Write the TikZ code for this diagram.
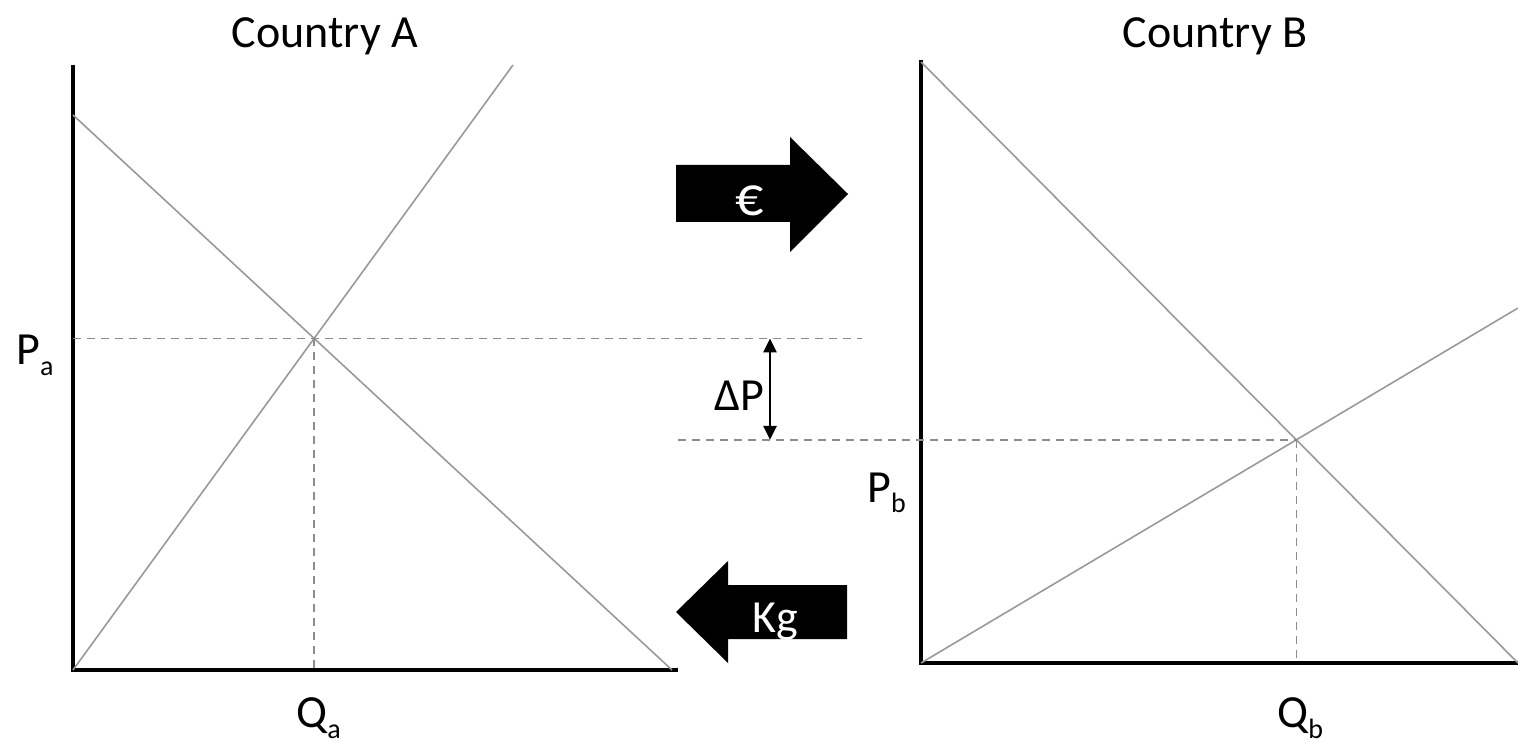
\documentclass[tikz,border=0pt]{standalone}
\usepackage{fontspec}
\setmainfont{Carlito}
\usetikzlibrary{arrows.meta}
\newcommand{\lowtxt}[1]{\raisebox{-5.5pt}{\fontsize{14}{14}\selectfont #1}}

\begin{document}
\begin{tikzpicture}[x=0.5pt, y=-0.5pt,
                    axis/.style={line width=2pt},
                    curve/.style={line width=0.8pt, draw=black!40},
                    guide/.style={line width=0.8pt, draw=black!45, dash pattern=on 4pt off 3pt},
                    lbl/.style={font=\fontsize{23}{23}\selectfont, inner sep=0pt}]

% full canvas
\useasboundingbox (0,0) rectangle (1518,742);

% ---- Country A ----
\coordinate (OA) at (73,670);  \coordinate (YA) at (73,65);
\coordinate (XA) at (678,670);
\coordinate (DA1) at (73,115); \coordinate (DA2) at (672,670);   % demand
\coordinate (SA2) at (513,65);                                   % supply
\coordinate (EA) at (intersection of DA1--DA2 and OA--SA2);
\coordinate (GA) at (862,0);

\draw[axis] (YA) -- (OA) -- (XA);
\draw[curve] (DA1) -- (DA2);
\draw[curve] (OA) -- (SA2);
\draw[guide] (EA -| OA) -- (EA -| GA);
\draw[guide] (EA) -- (EA |- OA);
\node[lbl, anchor=base] (titleA) at (325,48) {Country A};
\node[lbl, anchor=base west] (pa) at (16,365) {P\lowtxt{a}};
\node[lbl, anchor=base west] (qa) at (296,727) {Q\lowtxt{a}};

% ---- Country B ----
\coordinate (OB) at (921,663);  \coordinate (YB) at (921,60);
\coordinate (XB) at (1518,663);
\coordinate (DB1) at (921,62);  \coordinate (DB2) at (1518,663); % demand
\coordinate (SB2) at (1518,308);                                 % supply
\coordinate (EB) at (intersection of DB1--DB2 and OB--SB2);
\coordinate (GB) at (678,0);

\draw[axis] (YB) -- (OB) -- (XB);
\draw[curve] (DB1) -- (DB2);
\draw[curve] (OB) -- (SB2);
\draw[guide] (EB -| GB) -- (EB);
\draw[guide] (EB) -- (EB |- OB);
\node[lbl, anchor=base] (titleB) at (1215,48) {Country B};
\node[lbl, anchor=base west] (pb) at (867,502) {P\lowtxt{b}};
\node[lbl, anchor=base west] (qb) at (1277,727) {Q\lowtxt{b}};

% ---- price gap ----
\coordinate (DP) at (770,0);
\draw[line width=1.4pt, {Triangle[length=7pt,width=6.5pt]}-{Triangle[length=7pt,width=6.5pt]}]
  (EA -| DP) -- (EB -| DP);
\node[lbl, anchor=base west] (dp) at (714,410) {ΔP};

% ---- flows: money out, goods in ----
\fill (676,165) -- (790,165) -- (790,137) -- (848,194) -- (790,252)
      -- (790,222) -- (676,222) -- cycle;
\node[lbl, anchor=base, text=white, font=\fontsize{28}{28}\selectfont] (euro) at (750,216) {€};
\fill (676,612) -- (728,561) -- (728,585) -- (847,585) -- (847,639)
      -- (728,639) -- (728,663) -- cycle;
\node[lbl, anchor=base, text=white] (kg) at (775,632) {Kg};

\end{tikzpicture}
\end{document}
